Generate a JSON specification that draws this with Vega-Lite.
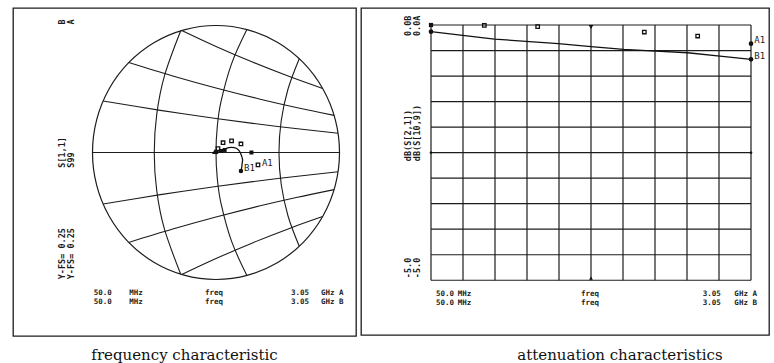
{
  "$schema": "https://vega.github.io/schema/vega-lite/v6.json",
  "background": "white",
  "padding": {"left": 12, "top": 7, "right": 0, "bottom": 0},
  "spacing": 3,
  "config": {
    "view": {"stroke": "#1c1c1c", "strokeWidth": 1.3},
    "title": {"orient": "bottom", "font": "DejaVu Serif", "fontSize": 15, "fontWeight": "normal", "color": "#111111", "anchor": "middle", "baseline": "top"}
  },
  "datasets": {
    "smBorder": [
      {"i":0,"u":1,"v":0},{"i":1,"u":0.9659,"v":0.2588},{"i":2,"u":0.866,"v":0.5},{"i":3,"u":0.7071,"v":0.7071},
      {"i":4,"u":0.5,"v":0.866},{"i":5,"u":0.2588,"v":0.9659},{"i":6,"u":0,"v":1},{"i":7,"u":-0.2588,"v":0.9659},
      {"i":8,"u":-0.5,"v":0.866},{"i":9,"u":-0.7071,"v":0.7071},{"i":10,"u":-0.866,"v":0.5},{"i":11,"u":-0.9659,"v":0.2588},
      {"i":12,"u":-1,"v":0},{"i":13,"u":-0.9659,"v":-0.2588},{"i":14,"u":-0.866,"v":-0.5},{"i":15,"u":-0.7071,"v":-0.7071},
      {"i":16,"u":-0.5,"v":-0.866},{"i":17,"u":-0.2588,"v":-0.9659},{"i":18,"u":0,"v":-1},{"i":19,"u":0.2588,"v":-0.9659},
      {"i":20,"u":0.5,"v":-0.866},{"i":21,"u":0.7071,"v":-0.7071},{"i":22,"u":0.866,"v":-0.5},{"i":23,"u":0.9659,"v":-0.2588}
    ],
    "smGrid": [
      {"g":"x1u","i":0,"u":-0.2771,"v":0.9608},{"g":"x1u","i":1,"u":0,"v":0.835},{"g":"x1u","i":2,"u":0.3,"v":0.71},{"g":"x1u","i":3,"u":0.6,"v":0.596},{"g":"x1u","i":4,"u":0.8633,"v":0.5047},
      {"g":"x2u","i":0,"u":-0.7064,"v":0.7079},{"g":"x2u","i":1,"u":-0.35,"v":0.6027},{"g":"x2u","i":2,"u":0,"v":0.5081},{"g":"x2u","i":3,"u":0.35,"v":0.4218},{"g":"x2u","i":4,"u":0.65,"v":0.3546},{"g":"x2u","i":5,"u":0.9564,"v":0.2922},
      {"g":"x3u","i":0,"u":-0.9142,"v":0.4052},{"g":"x3u","i":1,"u":-0.45,"v":0.3319},{"g":"x3u","i":2,"u":0,"v":0.2679},{"g":"x3u","i":3,"u":0.5,"v":0.2049},{"g":"x3u","i":4,"u":0.9885,"v":0.1515},
      {"g":"x1l","i":0,"u":-0.2771,"v":-0.9608},{"g":"x1l","i":1,"u":0,"v":-0.835},{"g":"x1l","i":2,"u":0.3,"v":-0.71},{"g":"x1l","i":3,"u":0.6,"v":-0.596},{"g":"x1l","i":4,"u":0.8633,"v":-0.5047},
      {"g":"x2l","i":0,"u":-0.7064,"v":-0.7079},{"g":"x2l","i":1,"u":-0.35,"v":-0.6027},{"g":"x2l","i":2,"u":0,"v":-0.5081},{"g":"x2l","i":3,"u":0.35,"v":-0.4218},{"g":"x2l","i":4,"u":0.65,"v":-0.3546},{"g":"x2l","i":5,"u":0.9564,"v":-0.2922},
      {"g":"x3l","i":0,"u":-0.9142,"v":-0.4052},{"g":"x3l","i":1,"u":-0.45,"v":-0.3319},{"g":"x3l","i":2,"u":0,"v":-0.2679},{"g":"x3l","i":3,"u":0.5,"v":-0.2049},{"g":"x3l","i":4,"u":0.9885,"v":-0.1515},
      {"g":"axis","i":0,"u":-1,"v":0},{"g":"axis","i":1,"u":1,"v":0},
      {"g":"rA","i":0,"u":-0.2857,"v":0.9583},{"g":"rA","i":1,"u":-0.4185,"v":0.6},{"g":"rA","i":2,"u":-0.4799,"v":0.3},{"g":"rA","i":3,"u":-0.5,"v":0},{"g":"rA","i":4,"u":-0.4799,"v":-0.3},{"g":"rA","i":5,"u":-0.4185,"v":-0.6},{"g":"rA","i":6,"u":-0.2857,"v":-0.9583},
      {"g":"rB","i":0,"u":0.25,"v":0.9682},{"g":"rB","i":1,"u":0.1265,"v":0.7},{"g":"rB","i":2,"u":0.0404,"v":0.4},{"g":"rB","i":3,"u":0.01,"v":0.2},{"g":"rB","i":4,"u":0,"v":0},{"g":"rB","i":5,"u":0.01,"v":-0.2},{"g":"rB","i":6,"u":0.0404,"v":-0.4},{"g":"rB","i":7,"u":0.1265,"v":-0.7},{"g":"rB","i":8,"u":0.25,"v":-0.9682},
      {"g":"rC","i":0,"u":0.6741,"v":0.7386},{"g":"rC","i":1,"u":0.5832,"v":0.5},{"g":"rC","i":2,"u":0.528,"v":0.25},{"g":"rC","i":3,"u":0.51,"v":0},{"g":"rC","i":4,"u":0.528,"v":-0.25},{"g":"rC","i":5,"u":0.5832,"v":-0.5},{"g":"rC","i":6,"u":0.6741,"v":-0.7386}
    ],
    "smB": [
      {"i":0,"u":0.004,"v":0.004},{"i":1,"u":0.032,"v":0.016},{"i":2,"u":0.067,"v":0.025},{"i":3,"u":0.105,"v":0.039},
      {"i":4,"u":0.148,"v":0.038},{"i":5,"u":0.178,"v":0.024},{"i":6,"u":0.197,"v":-0.002},{"i":7,"u":0.215,"v":-0.054},
      {"i":8,"u":0.211,"v":-0.091},{"i":9,"u":0.208,"v":-0.12},{"i":10,"u":0.202,"v":-0.146}
    ],
    "smAopen": [
      {"u":0.057,"v":0.077},{"u":0.126,"v":0.091},{"u":0.202,"v":0.067},{"u":0.34,"v":-0.098},{"u":0.016,"v":0.03}
    ],
    "smAfill": [
      {"u":0.287,"v":0.0},{"u":0.04,"v":0.012},{"u":0.07,"v":0.02}
    ],
    "smDots": [
      {"u":0.202,"v":-0.146},{"u":0.004,"v":0.004}
    ],
    "smTri": [
      {"u":-0.01,"v":0.006}
    ],
    "smLbl": [
      {"u":0.227,"v":-0.122,"t":"B1"},{"u":0.372,"v":-0.079,"t":"A1"}
    ],
    "lTextH": [
      {"u":-0.99,"v":-1.108,"t":"50.0"},{"u":-0.702,"v":-1.108,"t":"MHz"},{"u":-0.089,"v":-1.108,"t":"freq"},{"u":0.607,"v":-1.108,"t":"3.05"},{"u":0.85,"v":-1.108,"t":"GHz A"},
      {"u":-0.99,"v":-1.175,"t":"50.0"},{"u":-0.702,"v":-1.175,"t":"MHz"},{"u":-0.089,"v":-1.175,"t":"freq"},{"u":0.607,"v":-1.175,"t":"3.05"},{"u":0.85,"v":-1.175,"t":"GHz B"}
    ],
    "lTextR": [
      {"u":-1.247,"v":1.008,"t":"B"},{"u":-1.247,"v":-0.12,"t":"S[1,1]"},{"u":-1.247,"v":-0.998,"t":"Y-FS= 0.25"},
      {"u":-1.174,"v":1.008,"t":"A"},{"u":-1.174,"v":-0.12,"t":"S99"},{"u":-1.174,"v":-0.998,"t":"Y-FS= 0.25"}
    ],
    "rGrid": [
      {"g":"v0","f":50,"db":0},{"g":"v0","f":50,"db":-5},
      {"g":"v1","f":350,"db":0},{"g":"v1","f":350,"db":-5},
      {"g":"v2","f":650,"db":0},{"g":"v2","f":650,"db":-5},
      {"g":"v3","f":950,"db":0},{"g":"v3","f":950,"db":-5},
      {"g":"v4","f":1250,"db":0},{"g":"v4","f":1250,"db":-5},
      {"g":"v5","f":1550,"db":0},{"g":"v5","f":1550,"db":-5},
      {"g":"v6","f":1850,"db":0},{"g":"v6","f":1850,"db":-5},
      {"g":"v7","f":2150,"db":0},{"g":"v7","f":2150,"db":-5},
      {"g":"v8","f":2450,"db":0},{"g":"v8","f":2450,"db":-5},
      {"g":"v9","f":2750,"db":0},{"g":"v9","f":2750,"db":-5},
      {"g":"v10","f":3050,"db":0},{"g":"v10","f":3050,"db":-5},
      {"g":"h0","f":50,"db":0},{"g":"h0","f":3050,"db":0},
      {"g":"h1","f":50,"db":-0.5},{"g":"h1","f":3050,"db":-0.5},
      {"g":"h2","f":50,"db":-1},{"g":"h2","f":3050,"db":-1},
      {"g":"h3","f":50,"db":-1.5},{"g":"h3","f":3050,"db":-1.5},
      {"g":"h4","f":50,"db":-2},{"g":"h4","f":3050,"db":-2},
      {"g":"h5","f":50,"db":-2.5},{"g":"h5","f":3050,"db":-2.5},
      {"g":"h6","f":50,"db":-3},{"g":"h6","f":3050,"db":-3},
      {"g":"h7","f":50,"db":-3.5},{"g":"h7","f":3050,"db":-3.5},
      {"g":"h8","f":50,"db":-4},{"g":"h8","f":3050,"db":-4},
      {"g":"h9","f":50,"db":-4.5},{"g":"h9","f":3050,"db":-4.5},
      {"g":"h10","f":50,"db":-5},{"g":"h10","f":3050,"db":-5}
    ],
    "rB": [
      {"f":50,"db":-0.131},{"f":644,"db":-0.275},{"f":1244,"db":-0.366},{"f":1550,"db":-0.425},{"f":1856,"db":-0.477},
      {"f":2159,"db":-0.51},{"f":2456,"db":-0.543},{"f":2759,"db":-0.608},{"f":3050,"db":-0.673}
    ],
    "rAopen": [
      {"f":550,"db":-0.006},{"f":1050,"db":-0.033},{"f":2050,"db":-0.137},{"f":2550,"db":-0.216}
    ],
    "rAfill": [
      {"f":50,"db":0}
    ],
    "rDots": [
      {"f":50,"db":-0.131},{"f":3050,"db":-0.673},{"f":3050,"db":-0.366}
    ],
    "rTriDown": [
      {"f":1550,"db":-0.04}
    ],
    "rTriUp": [
      {"f":1550,"db":-4.96}
    ],
    "rSide": [
      {"f":50,"db":-2.5},{"f":3050,"db":-2.5}
    ],
    "rLbl": [
      {"f":3081,"db":-0.3,"t":"A1"},{"f":3081,"db":-0.608,"t":"B1"}
    ],
    "rTextH": [
      {"f":96.9,"db":-5.275,"t":"50.0"},{"f":300,"db":-5.275,"t":"MHz"},{"f":1456,"db":-5.275,"t":"freq"},{"f":2597,"db":-5.275,"t":"3.05"},{"f":2894,"db":-5.275,"t":"GHz A"},
      {"f":96.9,"db":-5.44,"t":"50.0"},{"f":300,"db":-5.44,"t":"MHz"},{"f":1456,"db":-5.44,"t":"freq"},{"f":2597,"db":-5.44,"t":"3.05"},{"f":2894,"db":-5.44,"t":"GHz B"}
    ],
    "rTextR": [
      {"f":-165,"db":-0.216,"t":"0.0B"},{"f":-165,"db":-2.667,"t":"dB(S[2,1])"},{"f":-165,"db":-4.96,"t":"-5.0"},
      {"f":-80,"db":-0.216,"t":"0.0A"},{"f":-80,"db":-2.667,"t":"dB(S[10,9])"},{"f":-80,"db":-4.96,"t":"-5.0"}
    ]
  },
  "hconcat": [
    {
      "width": 343,
      "height": 328,
      "title": {"text": "frequency characteristic", "offset": 12},
      "encoding": {
        "x": {"field": "u", "type": "quantitative", "scale": {"domain": [-1.6437, 1.1336], "nice": false, "zero": false}, "axis": null},
        "y": {"field": "v", "type": "quantitative", "scale": {"domain": [-1.4449, 1.1378], "nice": false, "zero": false}, "axis": null}
      },
      "layer": [
        {
          "data": {"name": "smBorder"},
          "mark": {"type": "line", "interpolate": "cardinal-closed", "stroke": "#1c1c1c", "strokeWidth": 1.2},
          "encoding": {"order": {"field": "i", "type": "quantitative"}}
        },
        {
          "data": {"name": "smGrid"},
          "mark": {"type": "line", "interpolate": "cardinal", "stroke": "#1c1c1c", "strokeWidth": 1.1},
          "encoding": {"detail": {"field": "g"}, "order": {"field": "i", "type": "quantitative"}}
        },
        {
          "data": {"name": "smB"},
          "mark": {"type": "line", "interpolate": "cardinal", "stroke": "#111111", "strokeWidth": 1.3},
          "encoding": {"order": {"field": "i", "type": "quantitative"}}
        },
        {
          "data": {"name": "smAopen"},
          "mark": {"type": "point", "shape": "square", "filled": false, "size": 12, "stroke": "#111111", "strokeWidth": 1.3, "opacity": 1}
        },
        {
          "data": {"name": "smAfill"},
          "mark": {"type": "point", "shape": "square", "filled": true, "size": 16, "color": "#111111", "opacity": 1}
        },
        {
          "data": {"name": "smDots"},
          "mark": {"type": "point", "shape": "circle", "filled": true, "size": 20, "color": "#111111", "opacity": 1}
        },
        {
          "data": {"name": "smTri"},
          "mark": {"type": "point", "shape": "triangle-up", "filled": true, "size": 30, "color": "#111111", "opacity": 1}
        },
        {
          "data": {"name": "smLbl"},
          "mark": {"type": "text", "font": "DejaVu Sans Mono", "fontSize": 9, "align": "left", "baseline": "middle", "color": "#1c1c1c"},
          "encoding": {"text": {"field": "t"}}
        },
        {
          "data": {"name": "lTextH"},
          "mark": {"type": "text", "font": "DejaVu Sans Mono", "fontSize": 7.5, "fontWeight": "bold", "align": "left", "baseline": "middle", "color": "#1c1c1c"},
          "encoding": {"text": {"field": "t"}}
        },
        {
          "data": {"name": "lTextR"},
          "mark": {"type": "text", "font": "DejaVu Sans Mono", "fontSize": 8.5, "fontWeight": "bold", "angle": 270, "align": "left", "baseline": "middle", "color": "#1c1c1c"},
          "encoding": {"text": {"field": "t"}}
        }
      ]
    },
    {
      "width": 408,
      "height": 327,
      "title": {"text": "attenuation characteristics", "offset": 13, "dx": 55},
      "encoding": {
        "x": {"field": "f", "type": "quantitative", "scale": {"domain": [-606.25, 3218.75], "nice": false, "zero": false}, "axis": null},
        "y": {"field": "db", "type": "quantitative", "scale": {"domain": [-6.0725, 0.3333], "nice": false, "zero": false}, "axis": null}
      },
      "layer": [
        {
          "data": {"name": "rGrid"},
          "mark": {"type": "line", "stroke": "#1c1c1c", "strokeWidth": 1.2},
          "encoding": {"detail": {"field": "g"}}
        },
        {
          "data": {"name": "rB"},
          "mark": {"type": "line", "stroke": "#111111", "strokeWidth": 1.3}
        },
        {
          "data": {"name": "rAopen"},
          "mark": {"type": "point", "shape": "square", "filled": false, "size": 12, "stroke": "#111111", "strokeWidth": 1.3, "opacity": 1}
        },
        {
          "data": {"name": "rAfill"},
          "mark": {"type": "point", "shape": "square", "filled": true, "size": 18, "color": "#111111", "opacity": 1}
        },
        {
          "data": {"name": "rDots"},
          "mark": {"type": "point", "shape": "circle", "filled": true, "size": 22, "color": "#111111", "opacity": 1}
        },
        {
          "data": {"name": "rTriDown"},
          "mark": {"type": "point", "shape": "triangle-down", "filled": true, "size": 22, "color": "#111111", "opacity": 1}
        },
        {
          "data": {"name": "rTriUp"},
          "mark": {"type": "point", "shape": "triangle-up", "filled": true, "size": 14, "color": "#111111", "opacity": 1}
        },
        {
          "data": {"name": "rSide"},
          "mark": {"type": "point", "shape": "diamond", "filled": true, "size": 10, "color": "#111111", "opacity": 1}
        },
        {
          "data": {"name": "rLbl"},
          "mark": {"type": "text", "font": "DejaVu Sans Mono", "fontSize": 9, "align": "left", "baseline": "middle", "color": "#1c1c1c"},
          "encoding": {"text": {"field": "t"}}
        },
        {
          "data": {"name": "rTextH"},
          "mark": {"type": "text", "font": "DejaVu Sans Mono", "fontSize": 7.5, "fontWeight": "bold", "align": "left", "baseline": "middle", "color": "#1c1c1c"},
          "encoding": {"text": {"field": "t"}}
        },
        {
          "data": {"name": "rTextR"},
          "mark": {"type": "text", "font": "DejaVu Sans Mono", "fontSize": 8.5, "fontWeight": "bold", "angle": 270, "align": "left", "baseline": "middle", "color": "#1c1c1c"},
          "encoding": {"text": {"field": "t"}}
        }
      ]
    }
  ]
}
